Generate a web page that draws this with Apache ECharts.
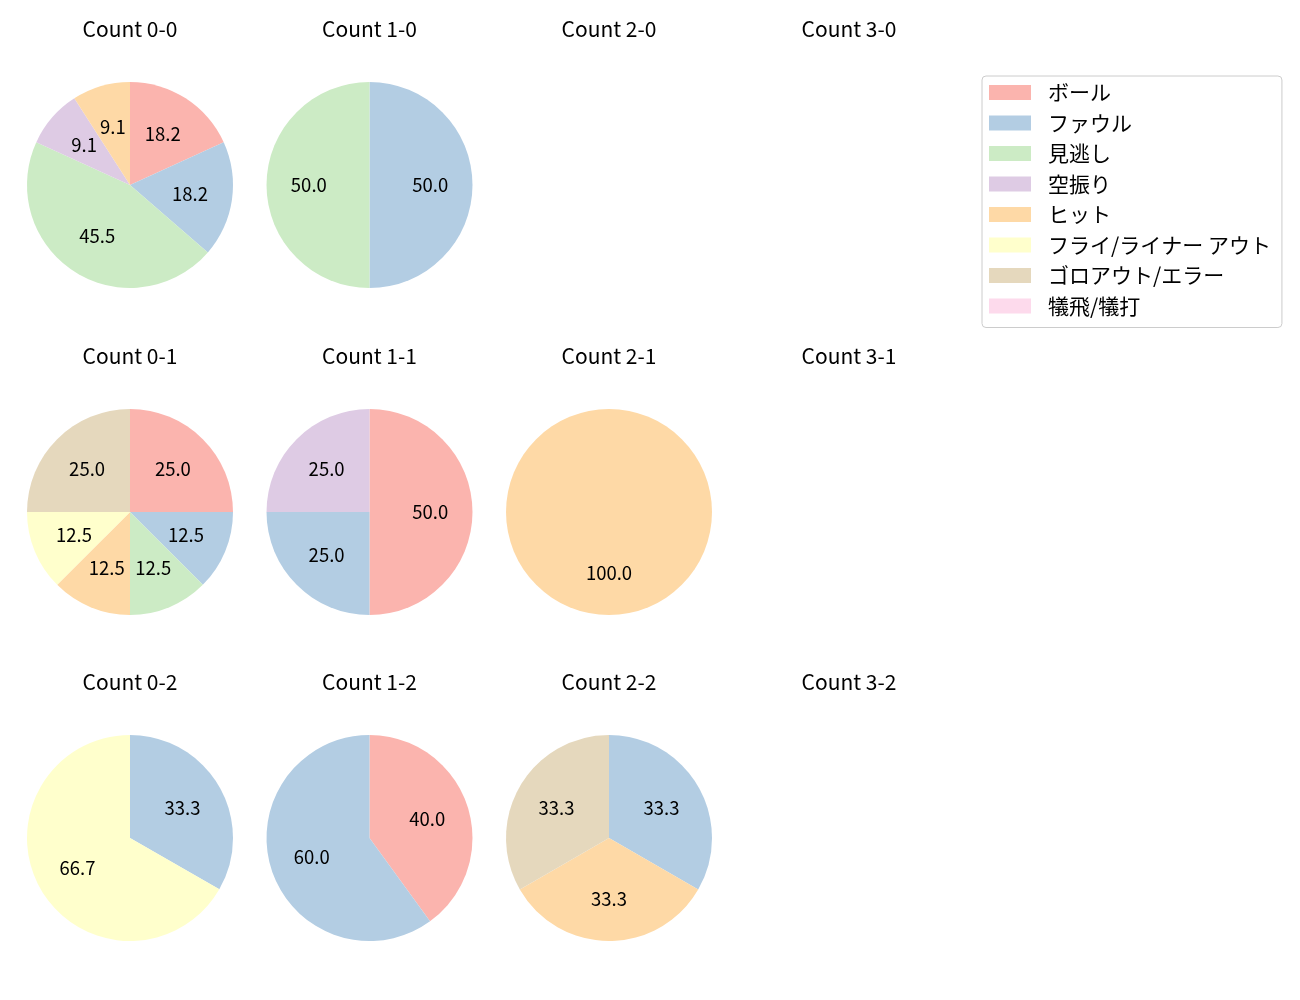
<!DOCTYPE html>
<html>
<head>
<meta charset="utf-8">
<script src="https://cdn.jsdelivr.net/npm/echarts@6/dist/echarts.min.js"></script>
<style>html,body{margin:0;padding:0;background:#fff}#c{width:1300px;height:1000px}</style>
</head>
<body>
<div id="c"></div>
<script>
const categories = ['ボール','ファウル','見逃し','空振り','ヒット','フライ/ライナー アウト','ゴロアウト/エラー','犠飛/犠打'];
const colors = ['#fbb4ae','#b3cde3','#ccebc5','#decbe4','#fed9a6','#ffffcc','#e5d8bd','#fddaec'];
const panelTitles = ['Count 0-0','Count 1-0','Count 2-0','Count 3-0','Count 0-1','Count 1-1','Count 2-1','Count 3-1','Count 0-2','Count 1-2','Count 2-2','Count 3-2'];
// percentages per panel, in category order (null = empty panel)
const count00 = [18.2, 18.2, 45.5, 9.1, 9.1, 0, 0, 0];
const count10 = [0, 50.0, 50.0, 0, 0, 0, 0, 0];
const count20 = null;
const count30 = null;
const count01 = [25.0, 12.5, 12.5, 0, 12.5, 12.5, 25.0, 0];
const count11 = [50.0, 25.0, 0, 25.0, 0, 0, 0, 0];
const count21 = [0, 0, 0, 0, 100.0, 0, 0, 0];
const count31 = null;
const count02 = [0, 33.3, 0, 0, 0, 66.7, 0, 0];
const count12 = [40.0, 60.0, 0, 0, 0, 0, 0, 0];
const count22 = [0, 33.3, 0, 0, 33.3, 0, 33.3, 0];
const count32 = null;
const panels = [count00,count10,count20,count30,count01,count11,count21,count31,count02,count12,count22,count32];

const colX = [130, 369.5, 609, 849];
const rowY = [185, 512, 838];
const R = 103;
const FONT = '"Noto Sans CJK JP", "Noto Sans", sans-serif';

const series = [];
const titles = [];
// dummy series to give the legend all categories
series.push({
  type: 'pie', radius: [0, 0], center: [-100, -100], silent: true,
  label: {show: false}, labelLine: {show: false},
  data: categories.map((c, i) => ({name: c, value: 1, itemStyle: {color: colors[i]}}))
});
panels.forEach((vals, k) => {
  const cx = colX[k % 4], cy = rowY[Math.floor(k / 4)];
  titles.push({
    text: panelTitles[k], left: cx, top: cy - 156 - 12, textAlign: 'center', padding: 0,
    textStyle: {fontFamily: FONT, fontSize: 21, fontWeight: 'normal', color: '#000', lineHeight: 24}
  });
  if (!vals) return;
  const items = [];
  vals.forEach((v, i) => { if (v > 0) items.push({name: categories[i], value: v, itemStyle: {color: colors[i]}}); });
  series.push({
    type: 'pie', radius: [0, R], center: [cx, cy], startAngle: 90, clockwise: true,
    silent: true, animation: false, itemStyle: {borderWidth: 0},
    label: {show: false}, labelLine: {show: false}, emphasis: {disabled: true},
    data: items
  });
  series.push({
    type: 'pie', radius: [R * 0.12, R], center: [cx, cy], startAngle: 90, clockwise: true,
    silent: true, animation: false, itemStyle: {color: 'rgba(0,0,0,0)', borderWidth: 0},
    label: {show: true, position: 'inside', formatter: p => p.value.toFixed(1),
      fontFamily: FONT, fontSize: 18.5, color: '#000'},
    labelLine: {show: false}, emphasis: {disabled: true},
    data: items.map(d => ({name: d.name, value: d.value}))
  });
});

const chart = echarts.init(document.getElementById('c'));
chart.setOption({
  animation: false,
  title: titles,
  legend: {
    data: categories, orient: 'vertical', left: 982, top: 76,
    icon: 'rect', itemWidth: 42, itemHeight: 15, itemGap: 9.5,
    padding: [6, 11, 11, 7],
    borderColor: '#cccccc', borderWidth: 1, borderRadius: 4,
    selectedMode: false,
    textStyle: {fontFamily: FONT, fontSize: 21, color: '#000', lineHeight: 21, padding: [0, 0, 0, 12]}
  },
  series: series
});
</script>
</body>
</html>
